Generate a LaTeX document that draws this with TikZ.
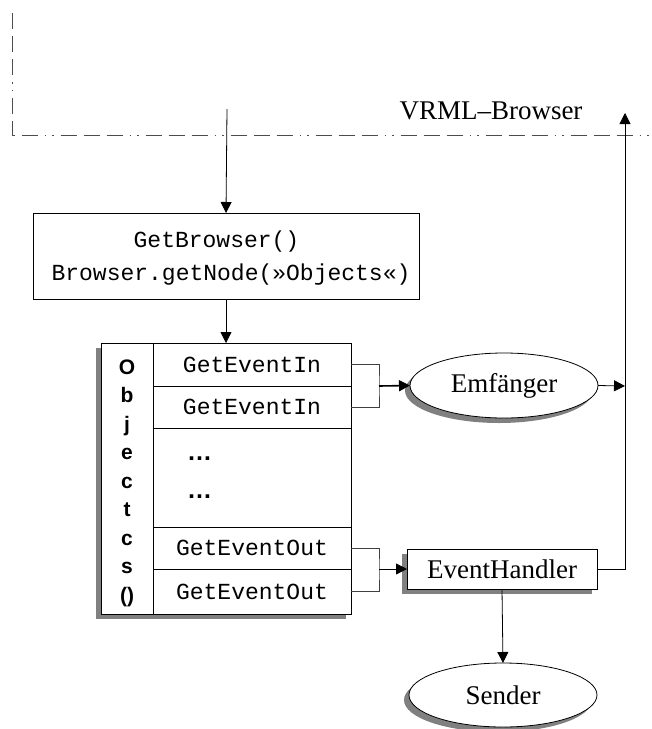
\documentclass[tikz,border=0pt]{standalone}
\usepackage{fontspec}
\setmainfont{Liberation Serif}
\setsansfont{Liberation Sans}
\setmonofont{Liberation Mono}
\usetikzlibrary{arrows.meta,shapes.geometric,shadows}

\begin{document}
\begin{tikzpicture}[
            x=1pt, y=-1pt,
            every node/.style={inner sep=0pt, outer sep=0pt},
            label/.style={font=\fontsize{27}{32}\selectfont},
            code/.style={font=\ttfamily\fontsize{23}{28}\selectfont},
            letter/.style={font=\sffamily\bfseries\fontsize{21}{25}\selectfont, anchor=base},
            cell/.style={draw, line width=1pt, fill=white, code},
            shadowed/.style={drop shadow={shadow xshift=-5pt, shadow yshift=-5pt, fill=black!50, opacity=1}},
            flow/.style={line width=0.8pt, -{Triangle[length=11pt, width=11pt]}},
            bracket/.style={line width=0.8pt, black!75},
            frame/.style={line width=0.8pt, black!70,
                dash pattern=on 16pt off 7pt on 16pt off 7pt on 16pt off 7pt on 1.5pt off 6pt on 1.5pt off 7pt},
            ]
            \useasboundingbox (0,0) rectangle (652,729);

            % browser border
            \draw[frame] (12.5,13) -- (12.5,135) -- (652,135);
            \node[label, anchor=base] (vrml) at (491,119) {VRML–Browser};

            % GetBrowser box
            \coordinate (entry) at (227,109);
            \node[draw, line width=1pt, minimum width=386pt, minimum height=86pt] (browser) at (226,256) {};
            \node[code, anchor=base] (getbrowser) at (216.5,247) {GetBrowser()};
            \node[code, anchor=base] (getnode) at (231,280) {Browser.getNode(»Objects«)};
            \draw[flow] (entry) -- (browser.north);

            % Objects() table
            \node[draw, line width=1pt, fill=white, shadowed, minimum width=250pt, minimum height=271pt] (objects) at (226,478.5) {};
            \draw[line width=1pt] (153,343) -- (153,614);
            \foreach \ch [count=\i from 0] in {O,b,j,e,c,t,c,s,()}
                \node[letter] (ch\i) at (127,374+28.5*\i) {\ch};
            \node[cell, minimum width=198pt, minimum height=43pt] (in1) at (252,364.5) {GetEventIn};
            \node[cell, minimum width=198pt, minimum height=42pt] (in2) at (252,407) {GetEventIn};
            \node[cell, minimum width=198pt, minimum height=42pt] (out1) at (252,548) {GetEventOut};
            \node[cell, minimum width=198pt, minimum height=45pt] (out2) at (252,591.5) {GetEventOut};
            \node[letter, font=\sffamily\bfseries\fontsize{25}{28}\selectfont, anchor=base west] (dots1) at (187,460) {…};
            \node[letter, font=\sffamily\bfseries\fontsize{25}{28}\selectfont, anchor=base west] (dots2) at (187,498) {…};
            \draw[flow] (browser.south) -- (objects.north);

            % receiver side
            \node[draw, ellipse, line width=0.8pt, fill=white, shadowed, minimum width=188pt, minimum height=65pt, label] (recv) at (504,385.5) {Emfänger};
            \coordinate (injoin) at (379,386);
            \draw[bracket] (in1.east) -| (injoin) |- (in2.east);
            \draw[flow, line width=1.6pt] (injoin) -- (recv.west);

            % sender side
            \node[draw, line width=0.8pt, fill=white, shadowed, minimum width=190pt, minimum height=40pt, label] (handler) at (502,569) {EventHandler};
            \node[draw, ellipse, line width=0.8pt, fill=white, shadowed, minimum width=188pt, minimum height=64pt, label] (send) at (503,695) {Sender};
            \coordinate (outjoin) at (379,569);
            \draw[bracket] (out1.east) -| (outjoin) |- (out2.east);
            \draw[flow] (outjoin) -- (handler.west);
            \draw[flow] (handler.south) -- (send.north);

            % back into the browser
            \coordinate (merge) at (625,386);
            \coordinate (back) at (625,113);
            \draw[flow] (recv.east) -- (merge);
            \draw[flow] (handler.east) -| (back);
        \end{tikzpicture}
\end{document}
